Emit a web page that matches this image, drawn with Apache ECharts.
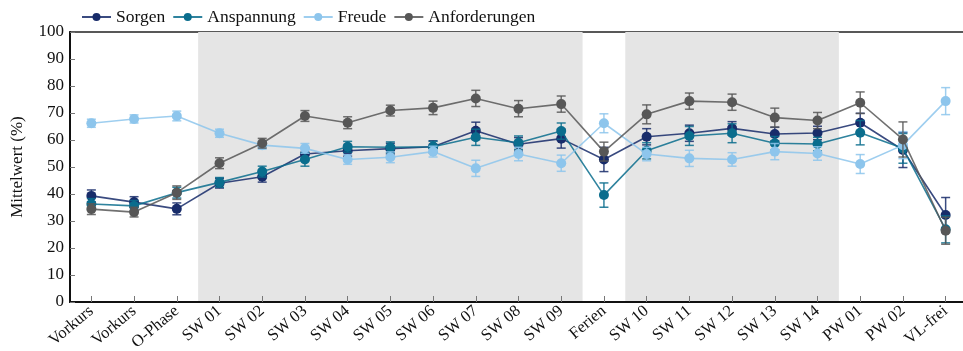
<!DOCTYPE html>
<html>
<head>
<meta charset="utf-8">
<script src="https://cdn.jsdelivr.net/npm/echarts@6/dist/echarts.min.js"></script>
<style>
  html, body { margin: 0; padding: 0; background: #fff; }
  #chart { width: 963px; height: 351px; }
</style>
</head>
<body>
<div id="chart"></div>
<script>
// Survey phases along the semester
const categories = ['Vorkurs', 'Vorkurs', 'O-Phase', 'SW 01', 'SW 02', 'SW 03', 'SW 04', 'SW 05', 'SW 06',
  'SW 07', 'SW 08', 'SW 09', 'Ferien', 'SW 10', 'SW 11', 'SW 12', 'SW 13', 'SW 14', 'PW 01', 'PW 02', 'VL-frei'];

// Mean values (%) per phase
const sorgen        = [39.3, 37.0, 34.5, 44.0, 46.4, 54.8, 56.0, 56.8, 57.5, 63.4, 58.4, 60.5, 52.8, 61.2, 62.5, 64.3, 62.2, 62.6, 66.4, 56.3, 32.2];
const anspannung    = [36.3, 35.6, 40.5, 44.3, 48.3, 52.8, 57.5, 57.3, 57.5, 61.0, 59.0, 63.3, 39.6, 56.0, 61.5, 62.5, 58.8, 58.5, 62.7, 56.9, 26.9];
const freude        = [66.2, 67.8, 68.9, 62.5, 58.1, 56.9, 52.8, 53.6, 55.7, 49.5, 54.8, 51.4, 66.2, 54.8, 53.2, 52.8, 55.7, 55.0, 51.1, 58.1, 74.4];
const anforderungen = [34.4, 33.3, 40.5, 51.4, 58.8, 68.9, 66.4, 70.9, 71.9, 75.4, 71.6, 73.3, 55.7, 69.5, 74.4, 74.0, 68.3, 67.2, 73.8, 60.2, 26.4];

// Half-width of the error bars (standard error, %)
const sorgenErr        = [2.2, 2.0, 2.2, 1.8, 2.0, 2.2, 2.0, 2.0, 2.2, 3.2, 2.5, 3.5, 4.5, 3.0, 3.0, 2.5, 2.5, 2.5, 3.5, 6.5, 6.5];
const anspannungErr    = [2.0, 2.0, 2.0, 1.8, 2.0, 2.5, 2.0, 2.0, 2.0, 3.0, 2.5, 3.0, 4.5, 3.0, 3.5, 3.5, 2.5, 2.5, 4.5, 5.5, 5.0];
const freudeErr        = [1.5, 1.5, 1.8, 1.5, 1.5, 1.8, 1.8, 2.0, 2.0, 3.0, 2.5, 3.0, 3.5, 2.5, 3.0, 2.5, 3.0, 2.5, 3.5, 5.0, 5.0];
const anforderungenErr = [2.0, 1.8, 2.5, 2.0, 1.8, 2.0, 2.2, 2.0, 2.5, 3.0, 3.0, 3.0, 3.5, 3.5, 3.0, 3.0, 3.5, 3.0, 4.0, 6.5, 5.0];

// Lecture periods, shaded in the background (first and last phase of each block)
const lecturePeriods = [[3, 11], [13, 17]];

const yTicks = [0, 10, 20, 30, 40, 50, 60, 70, 80, 90, 100];

const groups = [
  { name: 'Sorgen',        values: sorgen,        err: sorgenErr,        color: '#182c6a' },
  { name: 'Anspannung',    values: anspannung,    err: anspannungErr,    color: '#0a6d8d' },
  { name: 'Freude',        values: freude,        err: freudeErr,        color: '#8dc5ec' },
  { name: 'Anforderungen', values: anforderungen, err: anforderungenErr, color: '#575757' }
];

const font = 'Liberation Serif, Times New Roman, serif';

function errorBarSeries(g, z) {
  return {
    type: 'custom',
    name: g.name + ' SE',
    xAxisIndex: 0,
    yAxisIndex: 0,
    z: z,
    silent: true,
    data: g.values.map((v, i) => [i, v - g.err[i], v + g.err[i]]),
    renderItem: function (params, api) {
      const lo = api.coord([api.value(0), api.value(1)]);
      const hi = api.coord([api.value(0), api.value(2)]);
      const cap = 4.5;
      const style = { stroke: g.color, lineWidth: 1.5, opacity: 0.85 };
      return {
        type: 'group',
        children: [
          { type: 'line', shape: { x1: lo[0], y1: lo[1], x2: hi[0], y2: hi[1] }, style: style },
          { type: 'line', shape: { x1: lo[0] - cap, y1: lo[1], x2: lo[0] + cap, y2: lo[1] }, style: style },
          { type: 'line', shape: { x1: hi[0] - cap, y1: hi[1], x2: hi[0] + cap, y2: hi[1] }, style: style }
        ]
      };
    }
  };
}

const bandSeries = {
  type: 'custom',
  name: 'lecture periods',
  xAxisIndex: 1,
  yAxisIndex: 0,
  z: 0,
  silent: true,
  data: lecturePeriods.map(r => [r[0] - 0.5, r[1] + 0.5]),
  renderItem: function (params, api) {
    const p0 = api.coord([api.value(0), yTicks[yTicks.length - 1]]);
    const p1 = api.coord([api.value(1), yTicks[0]]);
    return {
      type: 'rect',
      shape: { x: p0[0], y: p0[1], width: p1[0] - p0[0], height: p1[1] - p0[1] },
      style: { fill: '#e5e5e5' }
    };
  }
};

const series = [bandSeries];
groups.forEach((g, k) => {
  series.push(errorBarSeries(g, 2 + k * 2));
  series.push({
    type: 'line',
    name: g.name,
    data: g.values,
    z: 3 + k * 2,
    symbol: 'circle',
    symbolSize: 10,
    showSymbol: true,
    itemStyle: { color: g.color },
    lineStyle: { color: g.color, width: 1.6, opacity: 0.85 }
  });
});

const chart = echarts.init(document.getElementById('chart'), null, { renderer: 'canvas' });
chart.setOption({
  animation: false,
  backgroundColor: '#ffffff',
  textStyle: { fontFamily: font },
  legend: {
    data: groups.map(g => g.name),
    left: 76,
    top: 3,
    itemWidth: 29,
    itemHeight: 10,
    itemGap: 7,
    textStyle: { fontFamily: font, fontSize: 17.5, color: '#111' }
  },
  grid: {
    left: 70,
    top: 32,
    bottom: 49,
    right: -4,
    show: true,
    borderColor: '#222',
    borderWidth: 1.5,
    containLabel: false,
    outerBoundsMode: 'none'
  },
  xAxis: [
    {
      type: 'category',
      data: categories,
      boundaryGap: true,
      axisLine: { show: true, lineStyle: { color: '#111', width: 2 } },
      axisTick: { show: true, inside: true, length: 6, alignWithLabel: true, lineStyle: { color: '#777', width: 1 } },
      axisLabel: { rotate: 40, fontSize: 16.5, color: '#111', fontFamily: font, interval: 0, margin: 7 },
      splitLine: { show: false }
    },
    {
      type: 'value',
      show: false,
      min: -0.5,
      max: categories.length - 0.5
    }
  ],
  yAxis: {
    type: 'value',
    min: yTicks[0],
    max: yTicks[yTicks.length - 1],
    interval: 10,
    name: 'Mittelwert (%)',
    nameLocation: 'middle',
    nameGap: 44,
    nameTextStyle: { fontFamily: font, fontSize: 17, color: '#111' },
    axisLine: { show: true, onZero: false, lineStyle: { color: '#111', width: 2 } },
    axisTick: { show: true, inside: true, length: 5, lineStyle: { color: '#777', width: 1 } },
    axisLabel: { fontSize: 17, color: '#111', fontFamily: font, margin: 6 },
    splitLine: { show: false }
  },
  series: series
});
</script>
</body>
</html>
